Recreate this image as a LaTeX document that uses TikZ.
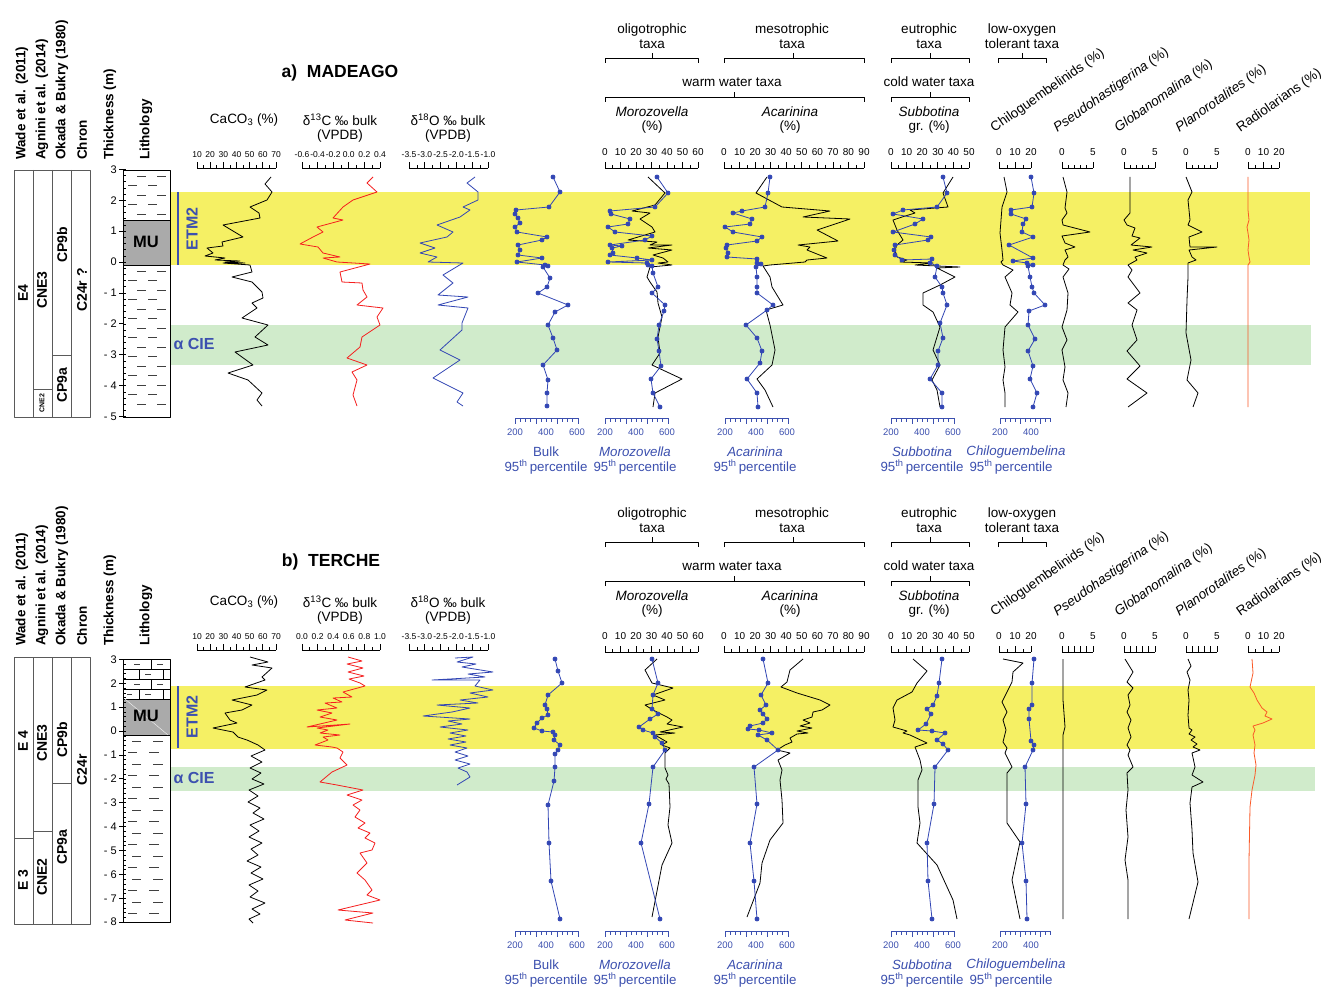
\documentclass[tikz,border=0pt]{standalone}
\usepackage{fontspec}
\setmainfont{Liberation Sans}
\definecolor{yel}{RGB}{245,240,100}
\definecolor{grn}{RGB}{208,235,203}
\definecolor{blu}{RGB}{60,80,175}
\definecolor{crv}{RGB}{50,70,180}
\definecolor{rd}{RGB}{245,30,30}
\definecolor{org}{RGB}{250,90,40}
\definecolor{lgr}{RGB}{170,170,170}
\definecolor{clm}{RGB}{90,90,90}

% axis with ticks upward: x1 x2 y n k minorheight
\newcommand\axup[6]{%
  \draw[axl] (#1,#3) -- (#2,#3);
  \foreach \i in {0,...,#4}{%
    \pgfmathsetmacro\tx{#1+(#2-#1)*\i/#4}%
    \pgfmathsetmacro\th{mod(\i,#5)==0 ? 6 : #6}%
    \draw[axl] (\tx,#3) -- (\tx,#3-\th);}}
% blue ruler with ticks downward: x1 x2 y n k
\newcommand\axdn[5]{%
  \draw[blu, line width=0.7pt] (#1,#3) -- (#2,#3);
  \foreach \i in {0,...,#4}{%
    \pgfmathsetmacro\tx{#1+(#2-#1)*\i/#4}%
    \pgfmathsetmacro\th{mod(\i,#5)==0 ? 6 : 4}%
    \draw[blu, line width=0.7pt] (\tx,#3) -- (\tx,#3+\th);}}
% labels: x1 x2 y list n size color
\newcommand\axlab[7]{%
  \foreach \l [count=\c from 0] in {#4}{%
    \node[inner sep=0, font=\fontsize{#6}{#6}\selectfont, text=#7] at ({#1+(#2-#1)*\c/#5},#3) {\l};}}
% bracket: x1 x2 y xc
\newcommand\brk[4]{\draw[axl] (#1,#3+5) -- (#1,#3) -- (#2,#3) -- (#2,#3+5) (#4,#3) -- (#4,#3-5);}

\newcommand\vhdr{%
  \node[vh] (wade) at (22,160) {Wade et al. (2011)};
  \node[vh] (agni) at (42,160) {Agnini et al. (2014)};
  \node[vh] (okad) at (62,160) {Okada \& Bukry (1980)};
  \node[vh] (chro) at (82,160) {Chron};
  \node[vh] (thik) at (110,160) {Thickness (m)};
  \node[vh] (lith) at (146,160) {Lithology};}

\newcommand\lefthdr[1]{%
  \node[txt] (caco) at (244,120) {CaCO\textsubscript{3} (\%)};
  \node[txt] (dc) at (340,128) {δ\textsuperscript{13}C ‰ bulk\\(VPDB)};
  \node[txt] (do) at (448,128) {δ\textsuperscript{18}O ‰ bulk\\(VPDB)};
  \axup{197}{276}{168}{12}{2}{3}
  \axlab{197}{276}{155}{10,20,30,40,50,60,70}{6}{8.5}{black}
  \axup{302}{380}{168}{10}{2}{3}
  \axlab{302}{380}{155}{#1}{5}{8.5}{black}
  \axup{409}{488}{168}{10}{2}{3}
  \axlab{409}{488}{155}{-3.5,-3.0,-2.5,-2.0,-1.5,-1.0}{5}{8.5}{black}}

\newcommand\forhdr[1]{%
  \node[txt] (olig) at (652,36) {oligotrophic\\taxa};
  \node[txt] (meso) at (792,36) {mesotrophic\\taxa};
  \node[txt] (eutr) at (929,36) {eutrophic\\taxa};
  \node[txt] (lowo) at (1022,36) {low-oxygen\\tolerant taxa};
  \brk{605}{698}{58}{652}\brk{724}{864}{58}{793}\brk{891}{969}{58}{930}\brk{998}{1046}{58}{1022}
  \node[txt] (warm) at (732,82) {warm water taxa};
  \node[txt] (cold) at (929,82) {cold water taxa};
  \brk{605}{864}{97}{734}\brk{891}{969}{97}{930}
  \node[txt] (moro) at (652,120) {\textit{Morozovella}\\(\%)};
  \node[txt] (acar) at (790,120) {\textit{Acarinina}\\(\%)};
  \node[txt] (subb) at (929,120) {\textit{Subbotina}\\gr. (\%)};
  \axup{605}{698}{168}{12}{2}{3}\axlab{605}{698}{152}{0,10,20,30,40,50,60}{6}{10}{black}
  \axup{724}{864}{168}{18}{2}{3}\axlab{724}{864}{152}{0,10,20,30,40,50,60,70,80,90}{9}{10}{black}
  \axup{891}{969}{168}{10}{2}{3}\axlab{891}{969}{152}{0,10,20,30,40,50}{5}{10}{black}
  \axup{999}{1031}{168}{4}{2}{3}\axlab{999}{1031}{152}{0,10,20}{2}{10}{black}
  \axup{1062}{1093}{168}{5}{5}{#1}\axlab{1062}{1093}{152}{0,5}{1}{10}{black}
  \axup{1124}{1155}{168}{5}{5}{#1}\axlab{1124}{1155}{152}{0,5}{1}{10}{black}
  \axup{1186}{1217}{168}{5}{5}{#1}\axlab{1186}{1217}{152}{0,5}{1}{10}{black}
  \axup{1248}{1279}{168}{4}{2}{3}\axlab{1248}{1279}{152}{0,10,20}{2}{10}{black}
  \node[rl] (rchi) at (996,135) {Chiloguembelinids (\%)};
  \node[rl] (rpse) at (1059,135) {\textit{Pseudohastigerina} (\%)};
  \node[rl] (rglo) at (1120,135) {\textit{Globanomalina} (\%)};
  \node[rl] (rpla) at (1181,135) {\textit{Planorotalites} (\%)};
  \node[rl] (rrad) at (1242,135) {Radiolarians (\%)};}

\newcommand\pctl{%
  \axdn{515}{578}{418}{12}{4}\axlab{515}{577}{432}{200,400,600}{2}{9.5}{blu}
  \axdn{605}{668}{418}{12}{4}\axlab{605}{667}{432}{200,400,600}{2}{9.5}{blu}
  \axdn{725}{788}{418}{12}{4}\axlab{725}{787}{432}{200,400,600}{2}{9.5}{blu}
  \axdn{891}{954}{418}{12}{4}\axlab{891}{953}{432}{200,400,600}{2}{9.5}{blu}
  \axdn{1000}{1050}{418}{10}{4}\axlab{1000}{1031}{432}{200,400}{1}{9.5}{blu}
  \node[btxt] (pb) at (546,452) {Bulk};
  \node[btxt] (pm) at (635,452) {\textit{Morozovella}};
  \node[btxt] (pa) at (755,452) {\textit{Acarinina}};
  \node[btxt] (ps) at (922,452) {\textit{Subbotina}};
  \node[btxt] (pc) at (1016,452) {\textit{Chiloguembelina}};
  \foreach \px/\nm in {546/q1,635/q2,755/q3,922/q4,1011/q5}{%
    \node[btxt] (\nm) at (\px,467) {95\textsuperscript{th}\,percentile};}}

\begin{document}
\begin{tikzpicture}[x=1pt,y=-1pt,line join=round,
  txt/.style={font=\fontsize{13.5}{14.5}\selectfont, inner sep=0, align=center},
  btxt/.style={font=\fontsize{13.3}{14}\selectfont, inner sep=0, text=blu},
  vh/.style={font=\bfseries\fontsize{13.5}{14}\selectfont, rotate=90, anchor=west, inner sep=0},
  colt/.style={font=\bfseries\fontsize{14}{14}\selectfont, rotate=90, inner sep=0},
  rl/.style={font=\fontsize{13.5}{14}\selectfont, rotate=35, anchor=south west, inner sep=0},
  dlab/.style={font=\fontsize{11}{12}\selectfont, inner sep=0, anchor=east},
  axl/.style={line width=0.7pt, black},
  clml/.style={line width=0.8pt, clm},
  dsh/.style={line width=0.9pt, black!75},
  kc/.style={line width=0.8pt, black},
  rc/.style={line width=0.8pt, rd},
  bc/.style={line width=0.8pt, crv},
  oc/.style={line width=0.8pt, org},
  dots/.style={line width=0.8pt, crv, mark=*, mark size=2pt, mark options={fill=crv, draw=crv}},
  big/.style={font=\bfseries\fontsize{17.5}{18}\selectfont, inner sep=0},
  bband/.style={font=\bfseries\fontsize{16}{16}\selectfont, inner sep=0, text=blu}]
\path[use as bounding box, fill=white] (0,0) rectangle (1329,987);

%================ PANEL A =================
\fill[yel] (171,192) rectangle (1310,265);
\fill[grn] (171,325) rectangle (1311,365);
\draw[blu, line width=2.5pt] (178,192) -- (178,265);
\node[bband, rotate=90] (etma) at (192,229) {ETM2};
\node[bband] (ciea) at (194,344) {α CIE};
\node[big] (tita) at (340,73) {a)\ \ MADEAGO};

\vhdr
% strat column a
\draw[clml] (14,170) rectangle (90,417);
\draw[clml] (33,170) -- (33,417) (52,170) -- (52,417) (71,170) -- (71,417)
  (33,389) -- (52,389) (52,355) -- (71,355);
\node[colt] (e4a) at (23,293) {E4};
\node[colt] (cn3a) at (42,290) {CNE3};
\node[colt, font=\bfseries\fontsize{7}{8}\selectfont] (cn2a) at (42,403) {CNE2};
\node[colt] (cp9ba) at (62,245) {CP9b};
\node[colt] (cp9aa) at (62,385) {CP9a};
\node[colt] (chra) at (82,290) {C24r ?};
% lithology a
\draw[axl] (123,170) -- (170,170) -- (170,417) -- (123,417);
\foreach \yy [count=\c] in {176,185.5,...,216}{%
  \pgfmathsetmacro\off{mod(\c,2)*9}%
  \draw[dsh] (128+\off,\yy) -- ++(9,0) (148+\off,\yy) -- ++(9,0);}
\foreach \yy [count=\c] in {271,280.5,...,413}{%
  \pgfmathsetmacro\off{mod(\c,2)*9}%
  \draw[dsh] (128+\off,\yy) -- ++(9,0) (148+\off,\yy) -- ++(9,0);}
\draw[fill=lgr, line width=1pt] (123,220) rectangle (170,265);
\node[big, font=\bfseries\fontsize{16.5}{16}\selectfont] (mua) at (146,242) {MU};
% depth axis a
\draw[axl] (123,170) -- (123,417);
\foreach \k in {0,...,40}{\draw[line width=0.5pt] (123,{262-30.9*(-5+0.2*\k)}) -- ++(3,0);}
\foreach \d/\t in {3/3,2/2,1/1,0/0,-1/- 1,-2/- 2,-3/- 3,-4/- 4,-5/- 5}{%
  \draw[axl] (123,{262-30.9*\d}) -- ++(-4,0);
  \node[dlab] at (117,{262-30.9*\d}) {\t};}

\lefthdr{-0.6,-0.4,-0.2,0.0,0.2,0.4}
\forhdr{3}
\pctl

% curves a
\draw[kc] plot coordinates {(271,177) (265,184) (272,192) (267,200) (250,207) (259,213) (260,218) (223,225) (243,237) (222,242) (223,246) (207,248) (213,253) (205,256) (225,258) (215,260) (240,261) (225,262) (245,263) (223,263) (250,265) (252,272) (232,277) (252,282) (262,292) (263,298) (252,303) (257,308) (242,318) (268,325) (255,337) (268,345) (235,352) (253,365) (228,373) (248,380) (262,393) (257,400) (262,406)};
\draw[rc] plot coordinates {(373,177) (367,183) (377,192) (353,200) (343,207) (333,218) (343,220) (317,227) (323,232) (313,237) (300,244) (318,247) (323,253) (340,257) (323,258) (337,262) (370,264) (340,272) (342,282) (362,283) (363,290) (367,297) (357,305) (383,308) (377,317) (380,325) (362,337) (360,347) (347,358) (367,365) (352,372) (357,380) (353,395) (357,406)};
\draw[bc] plot coordinates {(475,177) (467,183) (478,192) (478,200) (463,207) (470,210) (460,217) (437,225) (453,232) (447,237) (420,243) (435,248) (420,253) (437,257) (428,262) (463,263) (443,275) (453,283) (438,295) (468,297) (438,305) (468,308) (462,323) (462,330) (440,350) (460,360) (433,378) (463,393) (457,402) (463,406)};
\draw[dots] plot coordinates {(553,177) (560,192) (549,207) (516,210) (515,214) (518,218) (520,223) (515,227) (517,232) (547,237) (542,240) (518,245) (520,250) (518,255) (542,258) (517,262) (545,265) (548,266) (543,267) (550,278) (547,287) (538,293) (568,305) (555,312) (548,325) (553,338) (557,350) (543,365) (548,380) (547,393) (547,406)};
% Morozovella a
\draw[kc] plot coordinates {(648,177) (665,193) (655,205) (632,211) (650,213) (640,219) (652,227) (655,232) (628,240) (657,242) (650,245) (672,245) (648,248) (672,250) (653,255) (663,258) (668,262) (658,263) (672,265) (650,267) (647,277) (650,282) (657,292) (658,303) (662,317) (658,337) (660,353) (652,365) (682,379) (655,393) (653,407)};
\draw[dots] plot coordinates {(657,177) (668,193) (655,207) (610,211) (611,214) (630,219) (628,224) (608,227) (615,232) (652,236) (645,240) (610,245) (622,246) (612,248) (613,253) (610,255) (637,258) (652,260) (608,262) (647,263) (648,265) (652,266) (653,273) (658,287) (652,293) (665,305) (664,311) (659,325) (657,339) (659,351) (661,366) (651,379) (653,393) (660,407)};
% Acarinina a
\draw[kc] plot coordinates {(767,177) (756,193) (782,207) (830,211) (803,217) (850,219) (817,230) (838,241) (798,245) (810,247) (807,250) (827,258) (807,260) (805,262) (770,265) (763,266) (770,277) (772,287) (783,305) (766,310) (770,325) (775,350) (772,365) (757,379) (765,390) (773,407)};
\draw[dots] plot coordinates {(770,177) (768,193) (765,207) (742,211) (733,213) (752,219) (750,224) (725,227) (733,232) (762,237) (757,241) (727,245) (726,248) (728,253) (727,257) (757,259) (757,263) (761,264) (756,267) (757,277) (757,287) (757,293) (773,305) (767,310) (746,325) (757,338) (762,351) (760,363) (747,379) (757,393) (758,407)};
% Subbotina a
\draw[kc] plot coordinates {(953,177) (943,193) (948,207) (910,210) (915,213) (902,217) (893,220) (897,230) (903,240) (897,245) (895,250) (897,257) (907,260) (900,262) (933,263) (915,265) (960,267) (937,268) (955,277) (940,285) (923,293) (923,305) (933,312) (940,327) (933,350) (940,365) (932,380) (937,390) (940,407)};
\draw[dots] plot coordinates {(943,177) (947,193) (937,207) (903,210) (893,214) (923,219) (915,224) (893,232) (931,237) (928,240) (895,245) (894,250) (895,255) (902,260) (932,259) (930,263) (937,266) (935,277) (942,287) (943,293) (947,305) (940,323) (943,338) (938,351) (938,365) (930,379) (942,393) (942,407)};
% Chiloguembelinids a
\draw[kc] plot coordinates {(1004,177) (1007,192) (1002,207) (1000,233) (1002,250) (1003,260) (1001,262) (1003,265) (1013,270) (1005,277) (1012,293) (1010,305) (1018,312) (1005,327) (1003,350) (1005,367) (1003,380) (1005,393) (1005,407)};
\draw[dots] plot coordinates {(1031,177) (1034,193) (1032,207) (1011,210) (1011,214) (1026,219) (1023,224) (1022,232) (1033,237) (1009,245) (1033,258) (1013,261) (1027,263) (1033,265) (1028,266) (1030,277) (1032,287) (1034,293) (1045,305) (1029,311) (1028,325) (1035,339) (1028,351) (1033,366) (1030,379) (1037,393) (1033,407)};
% Pseudohastigerina a
\draw[kc] plot coordinates {(1063,177) (1067,192) (1065,208) (1067,213) (1062,220) (1063,225) (1090,232) (1062,236) (1065,243) (1075,247) (1065,250) (1068,257) (1065,260) (1063,265) (1069,269) (1063,277) (1068,293) (1067,310) (1062,327) (1067,340) (1062,350) (1065,367) (1063,380) (1068,393) (1066,407)};
% Globanomalina a
\draw[kc] plot coordinates {(1130,177) (1130,213) (1124,220) (1127,225) (1135,228) (1132,236) (1140,238) (1131,245) (1152,247) (1133,250) (1147,253) (1135,257) (1137,260) (1128,265) (1132,270) (1128,277) (1140,293) (1128,303) (1137,310) (1132,325) (1137,340) (1127,351) (1140,366) (1127,379) (1147,393) (1128,407)};
% Planorotalites a
\draw[kc] plot coordinates {(1186,177) (1192,192) (1188,200) (1190,220) (1188,225) (1202,232) (1189,237) (1190,247) (1217,247) (1189,250) (1192,257) (1196,260) (1188,263) (1188,277) (1187,300) (1186,333) (1191,360) (1187,380) (1198,393) (1193,407)};
% Radiolarians a
\draw[oc] plot coordinates {(1248,177) (1248,210) (1249,220) (1247,227) (1248,233) (1249,240) (1248,250) (1249,257) (1250,262) (1248,265) (1248,407)};

%================ PANEL B =================
\fill[yel] (171,686) rectangle (1315,749);
\fill[grn] (171,767) rectangle (1315,791);
\draw[blu, line width=2.5pt] (178,686) -- (178,748);
\node[bband, rotate=90] (etmb) at (192,717) {ETM2};
\node[bband] (cieb) at (194,778) {α CIE};
\node[big] (titb) at (331,562) {b)\ \ TERCHE};

\begin{scope}[shift={(0,486)}]
\vhdr
\end{scope}
% strat column b
\draw[clml] (14,657) rectangle (90,924);
\draw[clml] (33,657) -- (33,924) (52,657) -- (52,924) (71,657) -- (71,924)
  (14,838) -- (33,838) (33,831) -- (52,831) (52,783) -- (71,783);
\node[colt] (e4b) at (23,741) {E 4};
\node[colt] (e3b) at (23,880) {E 3};
\node[colt] (cn3b) at (42,743) {CNE3};
\node[colt] (cn2b) at (42,877) {CNE2};
\node[colt] (cp9bb) at (62,740) {CP9b};
\node[colt] (cp9ab) at (62,847) {CP9a};
\node[colt] (chrb) at (82,770) {C24r};
% lithology b
\draw[axl] (123,659) -- (170,659) -- (170,922) -- (123,922);
\draw[line width=0.7pt] (123,669) -- (170,669) (123,679) -- (170,679) (123,689) -- (170,689)
  (151,659) -- (151,669) (139,669) -- (139,679) (163,669) -- (163,679)
  (151,679) -- (151,689) (139,689) -- (139,699) (163,689) -- (163,699);
\draw[dsh] (134,664) -- ++(6,0) (157,664) -- ++(6,0) (145,674) -- ++(6,0)
  (134,684) -- ++(6,0) (157,684) -- ++(6,0) (145,694) -- ++(6,0) (127,694) -- ++(5,0);
\foreach \yy [count=\c] in {741,752.5,...,919}{%
  \pgfmathsetmacro\off{mod(\c,2)*4}%
  \draw[dsh] (128+\off,\yy) -- ++(9,0) (149+\off,\yy) -- ++(10,0);}
\draw[fill=lgr, line width=1pt] (123,699) rectangle (170,735);
\draw[white!85!gray, line width=0.5pt] (125,699) -- (168,735);
\node[big, font=\bfseries\fontsize{16.5}{16}\selectfont] (mub) at (146,716) {MU};
% depth axis b
\draw[axl] (123,659) -- (123,922);
\foreach \k in {0,...,55}{\draw[line width=0.5pt] (123,{731-23.9*(-8+0.2*\k)}) -- ++(3,0);}
\foreach \d/\t in {3/3,2/2,1/1,0/0,-1/- 1,-2/- 2,-3/- 3,-4/- 4,-5/- 5,-6/- 6,-7/- 7,-8/- 8}{%
  \draw[axl] (123,{731-23.9*\d}) -- ++(-4,0);
  \node[dlab] at (117,{731-23.9*\d}) {\t};}

\begin{scope}[shift={(0,482)}]
\lefthdr{0.0,0.2,0.4,0.6,0.8,1.0}
\end{scope}
\begin{scope}[shift={(0,484)}]
\forhdr{6}
\end{scope}
\begin{scope}[shift={(0,513)}]
\pctl
\end{scope}

% curves b
\draw[kc] plot coordinates {(250,657) (268,662) (252,665) (272,668) (262,677) (265,680) (245,687) (267,690) (257,695) (232,700) (252,705) (242,710) (225,713) (230,720) (237,723) (213,728) (233,732) (238,737) (247,740) (258,745) (265,750) (251,756) (262,762) (250,768) (261,773) (252,779) (264,784) (249,790) (258,796) (248,802) (260,808) (253,813) (264,819) (250,825) (259,831) (249,837) (262,843) (251,849) (258,855) (247,861) (261,867) (251,873) (263,879) (249,885) (258,891) (250,897) (265,903) (252,909) (260,914) (249,919) (253,923)};
\draw[rc] plot coordinates {(348,657) (362,661) (347,664) (363,668) (348,672) (364,676) (349,679) (360,683) (365,686) (343,692) (352,697) (333,698) (342,702) (325,703) (337,708) (317,710) (332,713) (320,717) (337,720) (307,727) (350,724) (317,728) (328,730) (320,733) (340,735) (323,737) (328,740) (315,745) (332,747) (337,748) (343,752) (340,758) (347,765) (332,772) (320,782) (337,785) (363,790) (347,795) (362,800) (353,805) (360,810) (355,817) (365,823) (358,828) (370,833) (365,838) (375,843) (372,850) (360,853) (367,863) (357,873) (365,880) (372,890) (367,895) (380,900) (338,910) (373,913) (345,920) (373,923)};
\draw[bc] plot coordinates {(455,658) (473,657) (457,662) (476,664) (462,667) (493,672) (468,674) (485,677) (432,680) (480,680) (475,686) (493,690) (470,693) (488,697) (460,700) (478,703) (437,705) (470,708) (452,712) (423,716) (470,719) (448,721) (462,724) (440,727) (468,730) (450,733) (466,736) (448,739) (466,742) (450,745) (467,748) (455,752) (468,756) (455,760) (470,764) (458,768) (467,772) (470,777) (457,785)};
\draw[dots] plot coordinates {(555,659) (558,671) (562,683) (548,695) (545,705) (547,709) (548,715) (542,718) (537,723) (534,728) (542,731) (553,732) (555,735) (554,740) (560,745) (558,750) (555,754) (555,767) (554,781) (548,805) (549,843) (551,881) (560,919)};
% Morozovella b
\draw[kc] plot coordinates {(657,659) (645,670) (652,683) (673,688) (653,695) (665,700) (645,705) (653,710) (667,717) (672,720) (667,724) (683,727) (660,732) (675,733) (655,735) (667,742) (662,745) (670,748) (665,753) (665,768) (668,775) (666,779) (669,784) (670,807) (668,825) (672,843) (662,865) (652,917)};
\draw[dots] plot coordinates {(652,659) (658,683) (653,695) (652,709) (658,714) (650,719) (639,727) (643,730) (653,733) (655,737) (662,743) (665,750) (653,767) (649,804) (641,843) (660,919)};
% Acarinina b
\draw[kc] plot coordinates {(803,659) (790,670) (787,682) (781,687) (797,693) (820,700) (830,705) (822,710) (813,712) (812,717) (803,720) (810,723) (800,726) (812,728) (797,731) (808,733) (797,734) (790,738) (792,742) (785,745) (777,750) (790,753) (778,760) (782,770) (780,780) (782,800) (783,823) (770,840) (762,863) (760,883) (747,917)};
\draw[dots] plot coordinates {(763,659) (768,683) (761,695) (766,705) (760,710) (763,714) (767,719) (763,723) (750,726) (748,729) (759,730) (772,733) (758,735) (767,740) (778,750) (754,767) (757,804) (750,843) (754,881) (757,919)};
% Subbotina b
\draw[kc] plot coordinates {(913,659) (927,671) (917,683) (912,692) (897,700) (893,708) (895,720) (893,727) (907,731) (903,733) (910,735) (927,743) (915,747) (920,760) (922,770) (918,780) (918,807) (920,823) (917,843) (937,865) (953,900) (957,919)};
\draw[dots] plot coordinates {(942,659) (939,683) (937,696) (933,705) (927,709) (931,714) (926,724) (918,730) (932,731) (945,733) (937,740) (943,744) (948,750) (935,767) (934,804) (927,843) (928,881) (932,919)};
% Chiloguembelinids b
\draw[kc] plot coordinates {(1003,659) (1023,663) (1013,672) (1012,682) (1002,702) (1007,712) (1003,720) (1006,730) (1003,742) (1007,748) (1005,753) (1012,767) (1007,773) (1007,793) (1007,823) (1020,842) (1012,880) (1020,919)};
\draw[dots] plot coordinates {(1034,659) (1032,683) (1032,705) (1029,709) (1029,719) (1031,741) (1034,745) (1033,750) (1025,767) (1026,804) (1022,843) (1026,881) (1027,919)};
% Pseudohastigerina b
\draw[kc] plot coordinates {(1063,659) (1063,700) (1065,727) (1063,735) (1063,919)};
% Globanomalina b
\draw[kc] plot coordinates {(1125,659) (1133,672) (1127,682) (1133,688) (1128,695) (1130,705) (1127,712) (1131,720) (1128,728) (1131,737) (1127,745) (1130,750) (1128,755) (1133,767) (1127,773) (1128,790) (1126,810) (1128,837) (1125,860) (1128,880) (1128,919)};
% Planorotalites b
\draw[kc] plot coordinates {(1188,659) (1191,666) (1187,672) (1190,680) (1188,690) (1189,700) (1188,715) (1189,728) (1192,730) (1189,734) (1195,737) (1191,740) (1197,744) (1193,747) (1200,750) (1192,753) (1195,767) (1192,775) (1203,782) (1192,787) (1190,803) (1192,830) (1193,853) (1198,882) (1189,919)};
% Radiolarians b
\draw[oc] plot coordinates {(1252,659) (1253,673) (1250,687) (1254,693) (1257,700) (1262,708) (1267,712) (1265,716) (1272,719) (1263,723) (1253,726) (1255,730) (1253,735) (1255,745) (1254,753) (1256,765) (1255,775) (1252,790) (1250,807) (1249,860) (1249,919)};
\end{tikzpicture}
\end{document}
